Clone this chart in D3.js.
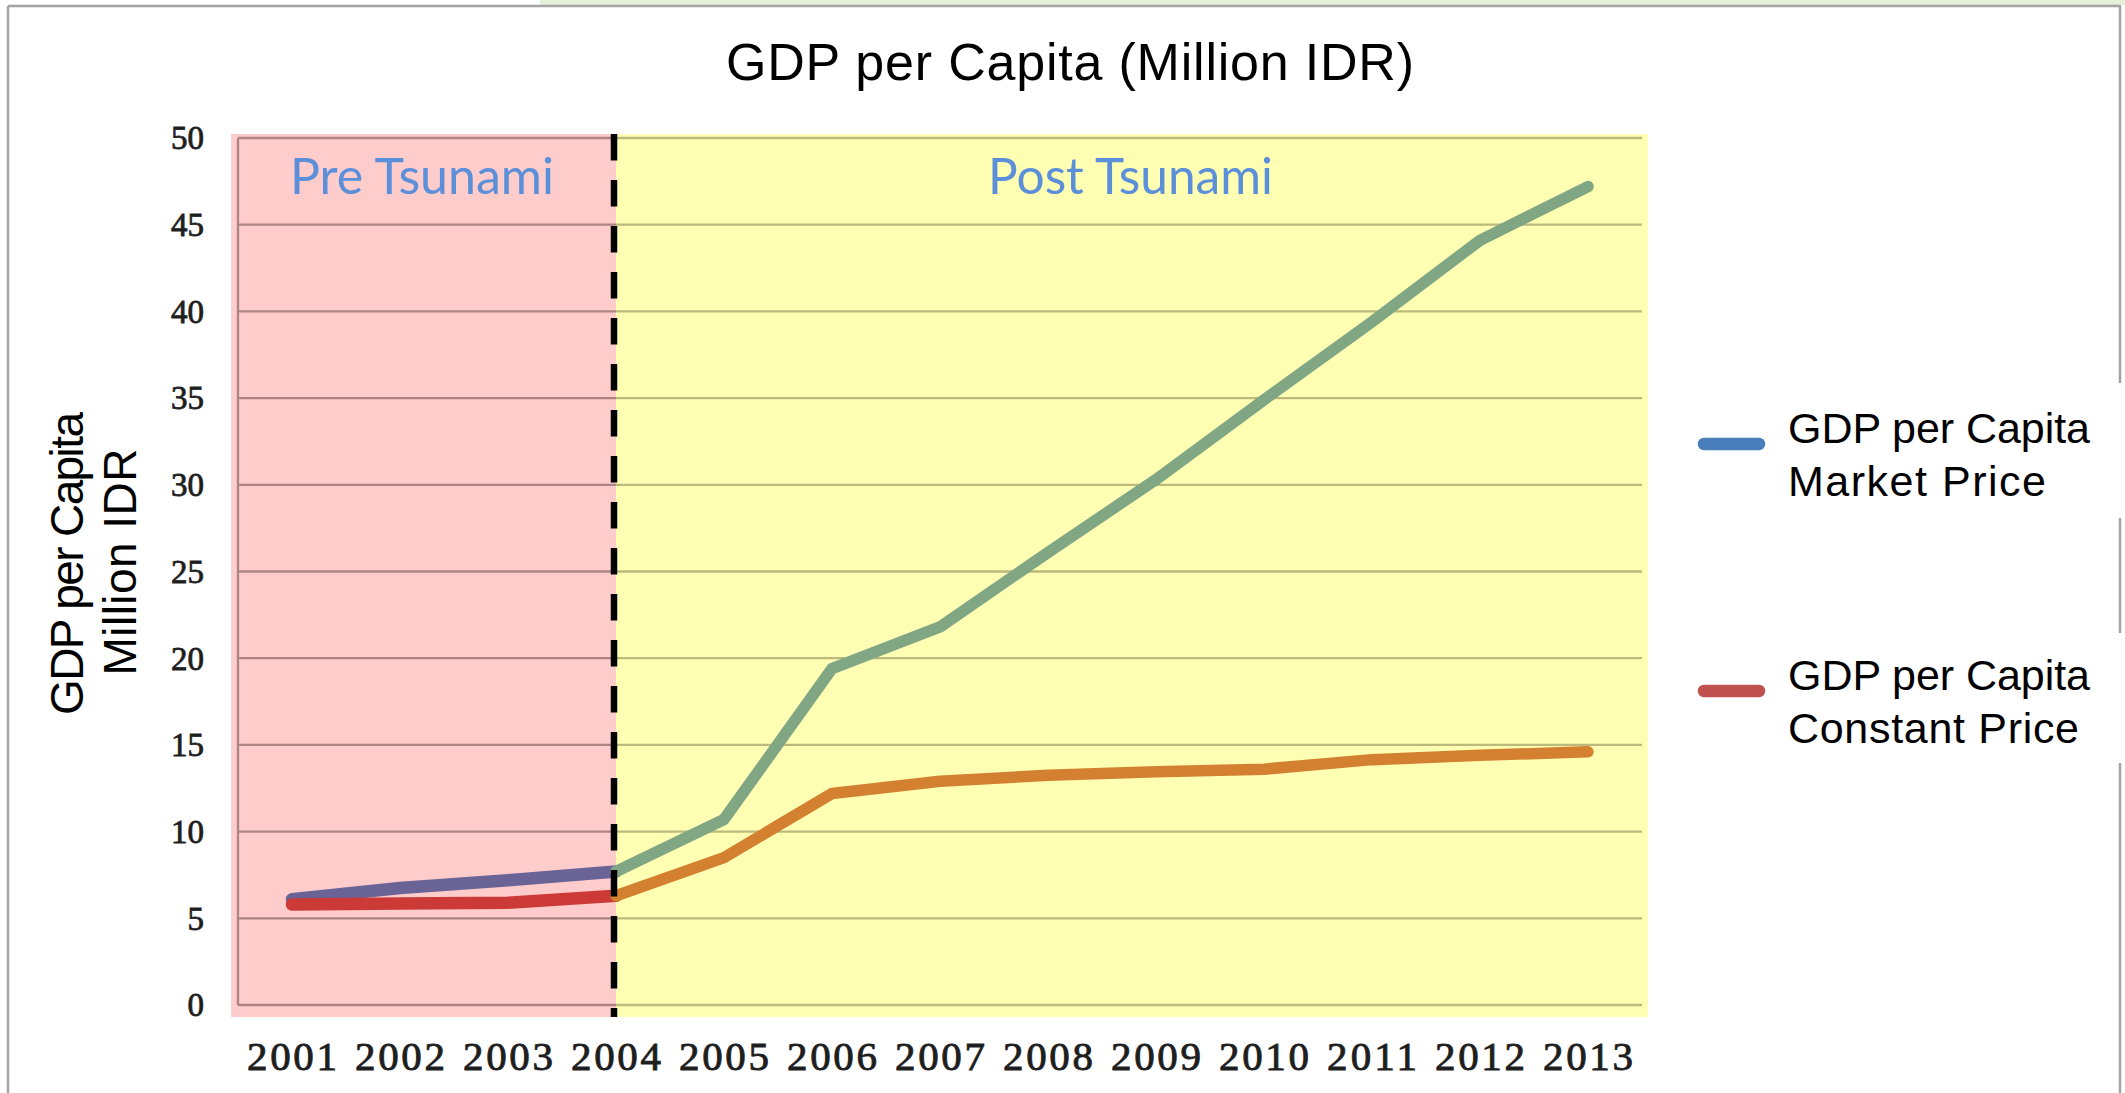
<!DOCTYPE html>
<html><head><meta charset="utf-8">
<script src="https://cdn.jsdelivr.net/npm/d3@7"></script>
<style>html,body{margin:0;padding:0;background:#fff;overflow:hidden}</style>
</head><body>
<svg id="c" width="2125" height="1093"></svg>
<script>
// ---- data ----
const years = ["2001","2002","2003","2004","2005","2006","2007","2008","2009","2010","2011","2012","2013"];
const marketPrice   = [6.1, 6.75, 7.2, 7.7, 10.7, 19.4, 21.8, 26.1, 30.3, 34.9, 39.4, 44.1, 47.2];
const constantPrice = [5.8, 5.85, 5.9, 6.3, 8.5, 12.2, 12.9, 13.25, 13.45, 13.6, 14.15, 14.4, 14.6];
const yTicks = [0, 5, 10, 15, 20, 25, 30, 35, 40, 45, 50];
const splitYear = "2004";
const periodLabels = ["Pre Tsunami", "Post Tsunami"];
const seriesNames = [["GDP per Capita", "Market Price"], ["GDP per Capita", "Constant Price"]];
const titleText = "GDP per Capita (Million IDR)";
const yTitle = ["GDP per Capita", "Million IDR"];

// ---- layout ----
const svg = d3.select("#c");
const x = d3.scaleBand().domain(years).range([238, 1642]).padding(0);
const cx = d => x(d) + x.bandwidth() / 2;
const y = d3.scaleLinear().domain([0, 50]).range([1005, 138]);
const splitX = cx(splitYear);
const plotTop = 134, plotBottom = 1017, plotLeft = 231, plotRight = 1648;

// top decoration strip + frame
svg.append("rect").attr("x", 540).attr("y", 0).attr("width", 1585).attr("height", 5).attr("fill", "#e6efda");
const frame = svg.append("g").attr("stroke", "#a3a3a3").attr("stroke-width", 2.5).attr("fill", "none");
frame.append("line").attr("x1", 8).attr("x2", 8).attr("y1", 6).attr("y2", 1093);
frame.append("line").attr("x1", 8).attr("x2", 2121).attr("y1", 6).attr("y2", 6);
[[6, 383], [518, 633], [763, 1093]].forEach(s =>
  frame.append("line").attr("x1", 2120).attr("x2", 2120).attr("y1", s[0]).attr("y2", s[1]));

// backgrounds
svg.append("rect").attr("x", plotLeft).attr("y", plotTop).attr("width", splitX - plotLeft)
  .attr("height", plotBottom - plotTop).attr("fill", "#ffcccc");
svg.append("rect").attr("x", splitX).attr("y", plotTop).attr("width", plotRight - splitX)
  .attr("height", plotBottom - plotTop).attr("fill", "#ffffb4");

// gridlines
const grid = svg.append("g");
grid.selectAll(".gp").data(yTicks).join("line").attr("class", "gp")
  .attr("x1", 238).attr("x2", splitX).attr("y1", d => y(d)).attr("y2", d => y(d))
  .attr("stroke", "#ad8484").attr("stroke-width", 2.3);
grid.selectAll(".gy").data(yTicks).join("line").attr("class", "gy")
  .attr("x1", splitX).attr("x2", 1642).attr("y1", d => y(d)).attr("y2", d => y(d))
  .attr("stroke", "#bbba7c").attr("stroke-width", 2.3);
grid.append("line").attr("x1", 238).attr("x2", 238).attr("y1", y(50)).attr("y2", y(0))
  .attr("stroke", "#ad8484").attr("stroke-width", 2.3);

// y tick labels
svg.append("g").selectAll("text").data(yTicks).join("text")
  .attr("x", 204).attr("y", d => y(d) + 11.3).attr("text-anchor", "end")
  .attr("font-family", "Liberation Serif, serif").attr("font-size", 33).attr("fill", "#1e1e1e")
  .attr("stroke", "#1e1e1e").attr("stroke-width", 0.8)
  .text(d => d);

// x tick labels
svg.append("g").selectAll("text").data(years).join("text")
  .attr("x", d => cx(d) - 45).attr("y", 1070)
  .attr("textLength", 90).attr("lengthAdjust", "spacing")
  .attr("font-family", "Liberation Serif, serif").attr("font-size", 41).attr("fill", "#1e1e1e")
  .attr("stroke", "#1e1e1e").attr("stroke-width", 0.9)
  .text(d => d);

// lines
const idx = years.indexOf(splitYear);
const pts = arr => arr.map((v, i) => [cx(years[i]), y(v)]);
const line = d3.line();
const mp = pts(marketPrice), cp = pts(constantPrice);
const drawSeg = (p, color, w) => svg.append("path").attr("d", line(p)).attr("fill", "none")
  .attr("stroke", color).attr("stroke-width", w).attr("stroke-linecap", "round").attr("stroke-linejoin", "round");
drawSeg(mp.slice(0, idx + 1), "#6a6496", 12.5);
drawSeg(cp.slice(0, idx + 1), "#cc3a37", 12.5);
drawSeg(mp.slice(idx), "#80a684", 11.5);
drawSeg(cp.slice(idx), "#d38030", 11.5);

// dashed divider
svg.append("line").attr("x1", splitX - 2).attr("x2", splitX - 2).attr("y1", plotTop).attr("y2", plotBottom)
  .attr("stroke", "#000").attr("stroke-width", 6.5).attr("stroke-dasharray", "26.5 19.5");

// period labels
svg.append("text").attr("x", 290).attr("y", 194).attr("textLength", 264).attr("lengthAdjust", "spacingAndGlyphs")
  .attr("font-family", "Lato, sans-serif").attr("font-size", 51).attr("fill", "#5b8fd9").text(periodLabels[0]);
svg.append("text").attr("x", 988).attr("y", 194).attr("textLength", 285).attr("lengthAdjust", "spacingAndGlyphs")
  .attr("font-family", "Lato, sans-serif").attr("font-size", 51).attr("fill", "#5b8fd9").text(periodLabels[1]);

// title
svg.append("text").attr("x", 726).attr("y", 80).attr("textLength", 688).attr("lengthAdjust", "spacing")
  .attr("font-family", "Liberation Sans, Arial, sans-serif").attr("font-size", 52).attr("fill", "#000").text(titleText);

// y axis title
const yt = svg.append("g").attr("font-family", "Liberation Sans, Arial, sans-serif").attr("font-size", 46).attr("fill", "#000");
yt.append("text").attr("transform", "translate(83,563.5) rotate(-90)").attr("text-anchor", "middle")
  .attr("textLength", 303).attr("lengthAdjust", "spacing").text(yTitle[0]);
yt.append("text").attr("transform", "translate(136,562) rotate(-90)").attr("text-anchor", "middle")
  .attr("textLength", 227).attr("lengthAdjust", "spacing").text(yTitle[1]);

// legend
const legColors = ["#4a7ebb", "#c0504d"];
const legY = [444, 691];
const legLens = [[302, 258], [302, 291]];
seriesNames.forEach((nm, i) => {
  svg.append("line").attr("x1", 1704).attr("x2", 1759).attr("y1", legY[i]).attr("y2", legY[i])
    .attr("stroke", legColors[i]).attr("stroke-width", 12.5).attr("stroke-linecap", "round");
  nm.forEach((t, j) => {
    svg.append("text").attr("x", 1788).attr("y", legY[i] - 1.5 + j * 53.5)
      .attr("textLength", legLens[i][j]).attr("lengthAdjust", "spacing")
      .attr("font-family", "Liberation Sans, Arial, sans-serif").attr("font-size", 43).attr("fill", "#000").text(t);
  });
});
</script>
</body></html>
